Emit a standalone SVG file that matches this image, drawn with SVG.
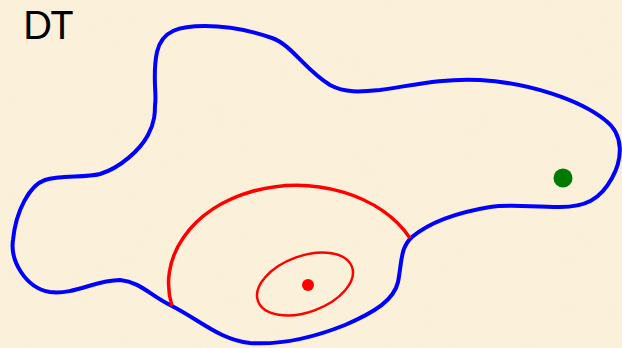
<svg xmlns="http://www.w3.org/2000/svg" width="622" height="348" viewBox="0 0 622 348">
<style>
.bg{fill:#FBF0DA}
.blue{fill:none;stroke:#0000FF;stroke-width:4;stroke-linejoin:round}
.red{fill:none;stroke:#FF0000;stroke-width:3.5}
.redthin{fill:none;stroke:#FF0000;stroke-width:2.5}
.lbl{font-family:Lato,"Liberation Sans",sans-serif;font-size:38px;fill:#000}
</style>
<defs>
<filter id="paper" x="0" y="0" width="100%" height="100%">
<feTurbulence type="fractalNoise" baseFrequency="0.02" numOctaves="3" seed="4"/>
<feColorMatrix type="matrix" values="0 0 0 0 0.93  0 0 0 0 0.85  0 0 0 0 0.62  0 0 0 0.6 -0.15"/>
</filter>
</defs>
<rect class="bg" x="0" y="0" width="622" height="348"/>
<rect x="0" y="0" width="622" height="348" filter="url(#paper)" opacity="0.35"/>
<text class="lbl" x="23" y="39">DT</text>
<g id="region">
<path class="blue" d="M 155,105 C 157,95 152,75 157,52 C 162,30 180,26 205,26 C 230,26 255,32 272,38 C 292,45 305,70 330,85 C 345,93 360,92 380,90 C 410,86 440,78 480,80 C 530,83 580,100 605,120 C 625,135 622,160 612,178 C 600,200 585,207 560,207 C 530,207 510,204 490,207 C 460,212 430,222 412,237 C 400,248 402,262 398,282 C 394,300 375,312 345,325 C 315,337 280,345 250,343 C 220,340 200,320 170,305 C 150,295 140,282 120,280 C 95,280 75,295 50,292 C 25,288 10,260 13,240 C 16,210 30,185 45,180 C 60,175 85,178 100,174 C 120,168 140,150 148,135 C 155,122 155,112 155,105 Z"/>
</g>
<g id="outer-arc">
<path class="red" d="M 172,306 A 128 98 0 0 1 410,238"/>
</g>
<g id="inner-ellipse">
<ellipse class="redthin" cx="305" cy="284" rx="50" ry="28" transform="rotate(-20 305 284)"/>
</g>
<g id="red-point">
<circle cx="308" cy="285" r="6" fill="#FF0000"/>
</g>
<g id="green-point">
<circle cx="563" cy="178" r="9.5" fill="#007A00"/>
</g>
</svg>
